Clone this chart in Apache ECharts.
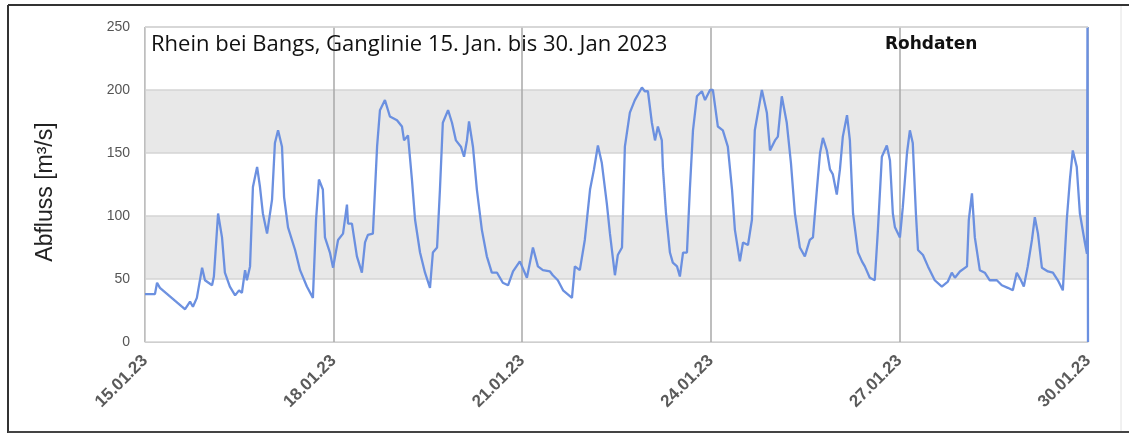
<!DOCTYPE html>
<html>
<head>
<meta charset="utf-8">
<script src="https://cdn.jsdelivr.net/npm/echarts@6/dist/echarts.min.js"></script>
<style>
html,body{margin:0;padding:0;background:#fff;}
#chart{width:1129px;height:434px;}
</style>
</head>
<body>
<div id="chart"></div>
<script>
// hours since 15.01.23 00:00
var hours = [0,3.8,4.6,5.7,14.1,15.3,17.2,18.3,19.8,21.8,22.9,25.6,26.3,27.9,29.4,30.5,32.4,34.4,35.9,37.0,38.2,38.9,40.1,41.2,42.8,43.9,45.0,46.6,48.5,49.6,50.8,52.3,53.1,54.6,57.3,59.2,61.8,64.1,65.3,66.4,67.9,68.7,70.6,71.8,73.7,75.6,77.1,77.5,79.0,80.9,82.8,84.0,85.1,87.0,88.6,89.7,91.6,93.5,96.2,98.1,98.9,100.4,101.9,103.1,105.0,106.9,108.8,109.9,111.5,112.6,113.7,115.7,117.2,118.7,120.6,121.8,122.9,123.7,125.2,126.7,128.6,130.5,132.4,134.4,136.6,138.6,140.5,143.1,145.8,148.1,150.0,151.9,154.6,155.7,157.6,159.6,163.0,164.1,166.0,167.9,169.9,171.4,172.9,174.4,176.3,177.5,179.4,180.5,182.1,183.2,185.1,187.0,189.7,190.8,192.0,193.5,194.7,195.8,197.3,197.7,198.9,200.4,201.5,203.1,204.2,205.4,206.9,208.0,209.2,210.7,212.6,213.8,215.7,216.8,218.7,220.6,222.5,224.1,225.2,227.1,228.3,230.2,231.7,232.8,235.5,237.4,238.6,240.5,241.6,243.1,245.0,246.6,248.1,250.0,251.9,253.8,255.0,256.5,257.7,258.8,260.3,261.5,262.6,264.1,265.3,266.4,268.0,269.1,270.3,272.2,273.7,274.8,276.7,278.6,279.8,281.3,283.2,284.4,285.5,286.3,288.2,289.3,290.9,292.0,293.1,294.3,295.1,297.0,298.9,301.5,304.2,306.5,308.0,309.2,311.1,313.8,314.5,315.7,316.8,318.7,320.6,322.5,325.2,327.1,329.4,331.3,332.8,334.4,335.5,337.0,338.6,339.7,340.9,342.4,344.7,346.6,348.5,350.4,351.9,353.1,354.2,355.7,356.9,358.8,359.6,359.8,360];
var flow = [38,38,47,43,28,26,32,28,35,59,49,45,52,102,83,55,44,37,41,39,57,49,60,123,139,123,102,86,113,158,168,155,115,91,73,57,44,35,97,129,121,83,71,59,81,86,109,94,94,68,55,79,85,86,155,184,192,179,176,171,160,164,129,97,71,55,43,71,75,121,174,184,174,160,155,147,160,175,155,121,89,68,55,55,47,45,56,64,51,75,60,57,56,53,49,41,35,60,57,81,121,137,156,142,110,86,53,69,75,155,182,192,202,199,199,174,160,171,160,139,102,71,63,60,52,71,71,121,168,195,199,192,200,200,171,168,155,121,89,64,79,77,97,168,200,182,152,160,163,195,174,142,102,75,68,81,83,121,150,162,152,137,133,117,137,163,180,160,102,71,64,60,51,49,89,147,156,144,102,91,83,107,150,168,158,102,73,69,60,49,44,48,55,51,56,60,97,118,83,57,55,49,49,45,43,41,55,49,44,60,81,99,86,59,56,55,49,41,97,129,152,139,102,79,70,250,0];
// thin dotted (gap-filled) sections: index ranges [from, to]
var gapRanges = [[3,4],[10,11],[119,120]];
// final raw-data spike: from this index to the end
var spikeStart = 227;
var tickLabels = ['15.01.23','18.01.23','21.01.23','24.01.23','27.01.23','30.01.23'];
var titleText = 'Rhein bei Bangs, Ganglinie 15. Jan. bis 30. Jan 2023';
var noteText = 'Rohdaten';
var yName = 'Abfluss [m³/s]';

function inGap(i){ // segment i -> i+1 is a gap
  for (var k=0;k<gapRanges.length;k++){ if(i>=gapRanges[k][0] && i<gapRanges[k][1]) return true; }
  return false;
}
var mainData = [], gapData = [], spikeData = [];
for (var i=0;i<hours.length;i++){
  var prevGap = i>0 && inGap(i-1), nextGap = inGap(i);
  var solidPrev = i>0 && !inGap(i-1), solidNext = i<hours.length-1 && !inGap(i);
  var inMain = i<=spikeStart && (solidPrev||solidNext);
  mainData.push(inMain?[hours[i],flow[i]]:[hours[i],null]);
  gapData.push((prevGap||nextGap)?[hours[i],flow[i]]:[hours[i],null]);
  spikeData.push(i>=spikeStart?[hours[i],flow[i]]:[hours[i],null]);
}

var chart = echarts.init(document.getElementById('chart'));
chart.setOption({
  animation:false,
  grid:{left:145,right:41,top:27,bottom:92,show:false},
  xAxis:{type:'value',min:0,max:360,interval:72,
    axisLine:{show:true,lineStyle:{color:'#cfcfcf',width:1}},
    axisTick:{show:false},
    splitLine:{show:true,lineStyle:{color:'#a8a8a8',width:1.5}},
    axisLabel:{rotate:45,margin:16,color:'#5a5a5a',fontSize:17,fontWeight:'bold',fontFamily:'Liberation Sans',
      formatter:function(v){return tickLabels[Math.round(v/72)]||'';}}
  },
  yAxis:{type:'value',min:0,max:250,interval:50,
    axisLine:{show:true,lineStyle:{color:'#cfcfcf'}},
    axisTick:{show:false},
    axisLabel:{color:'#555',fontSize:14,fontFamily:'Liberation Sans',margin:15},
    splitLine:{show:true,lineStyle:{color:'#d4d4d4',width:1.5}},
    splitArea:{show:true,areaStyle:{color:['#ffffff','#e8e8e8']}}
  },
  graphic:[
    {type:'line',z:100,shape:{x1:8,y1:5,x2:1129,y2:5},style:{stroke:'#333',lineWidth:2}},
    {type:'line',z:100,shape:{x1:8,y1:5,x2:8,y2:433},style:{stroke:'#333',lineWidth:2}},
    {type:'line',z:100,shape:{x1:8,y1:432,x2:1129,y2:432},style:{stroke:'#444',lineWidth:2}},
    {type:'line',z:100,shape:{x1:1121,y1:6,x2:1121,y2:431},style:{stroke:'#e2e2e2',lineWidth:1}},
    {type:'line',z:100,shape:{x1:145,y1:27,x2:1088,y2:27},style:{stroke:'#d4d4d4',lineWidth:1.5}},
    {type:'text',z:100,x:151,y:45,style:{text:titleText,fontSize:22,fontFamily:'Open Sans',fill:'#111',verticalAlign:'middle'}},
    {type:'text',z:100,x:885,y:45,style:{text:noteText,fontSize:17,fontWeight:'bold',fontFamily:'DejaVu Sans',fill:'#111',verticalAlign:'middle'}},
    {type:'text',z:100,x:46,y:192,rotation:Math.PI/2,style:{text:yName,fontSize:23,fontFamily:'Liberation Sans',fill:'#222',align:'center',verticalAlign:'middle'}}
  ],
  series:[
    {type:'line',data:mainData,showSymbol:false,connectNulls:false,
      lineStyle:{color:'#6b90e0',width:2.3},z:3},
    {type:'line',data:gapData,showSymbol:false,connectNulls:false,
      lineStyle:{color:'#7b9be2',width:1,type:'dotted'},z:3},
    {type:'line',data:spikeData,showSymbol:false,connectNulls:false,
      lineStyle:{color:'#3450b8',width:2},z:4}
  ]
});
</script>
</body>
</html>
